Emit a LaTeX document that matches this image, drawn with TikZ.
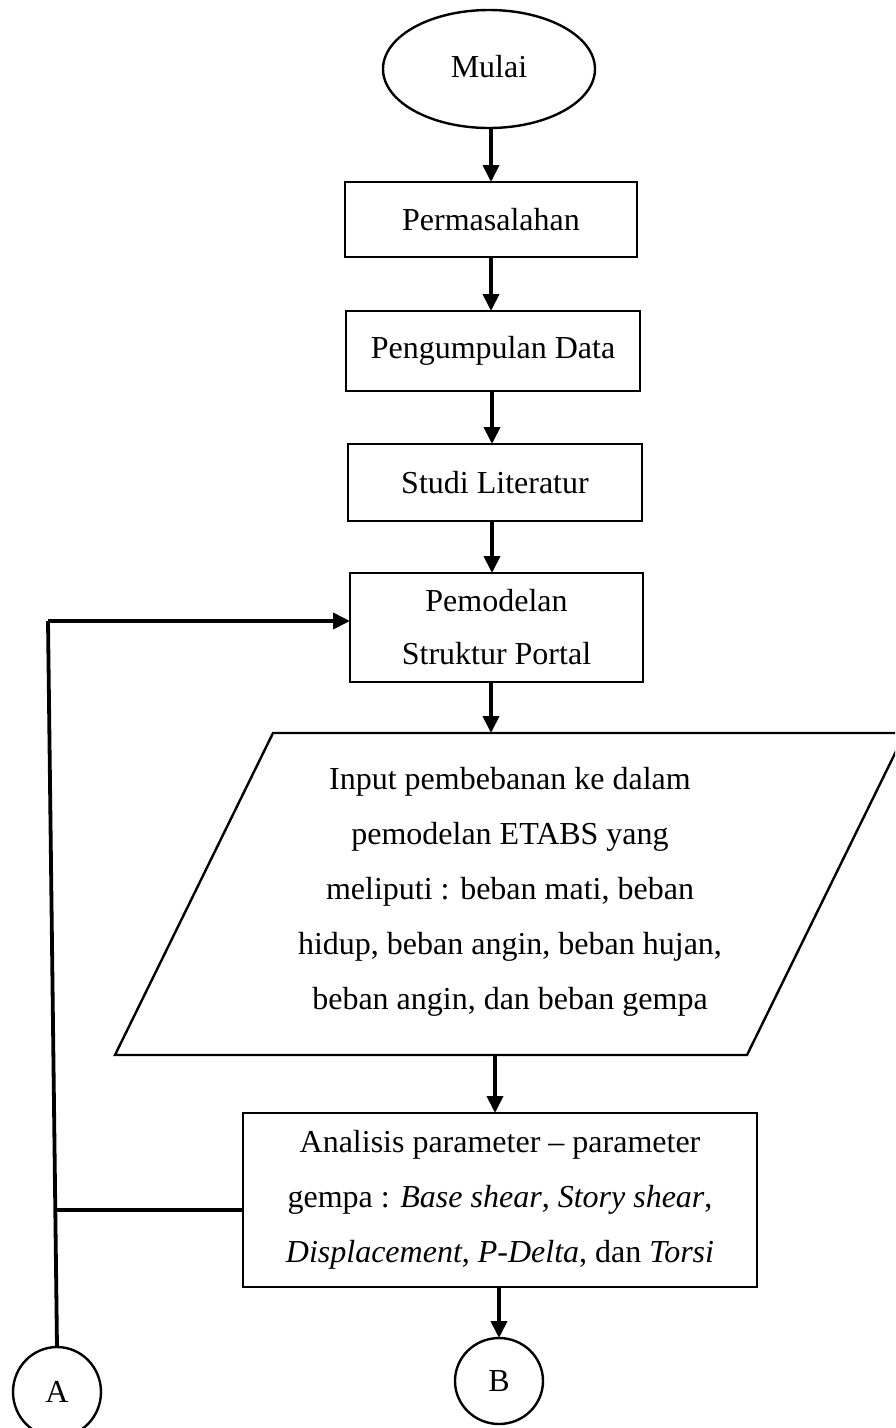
\documentclass[tikz,border=0pt]{standalone}
\usepackage{fontspec}
\setmainfont{Liberation Serif}
\usetikzlibrary{arrows.meta,shapes.geometric}
\begin{document}
\begin{tikzpicture}[x=1pt,y=-1pt,
  every node/.style={font=\fontsize{32}{55}\selectfont, inner sep=0pt, outer sep=0pt},
  procbox/.style={draw, line width=2.6pt, rectangle, align=center},
  termshape/.style={draw, line width=2.4pt, ellipse},
  conn/.style={draw, line width=2.4pt, ellipse},
  flow/.style={line width=3.8pt, -{Triangle[length=17pt,width=16pt]}},
  plainline/.style={line width=3.8pt}
]
\useasboundingbox (0,0) rectangle (895,1428);
\clip (0,0) rectangle (895,1428);
\fill[white] (0,0) rectangle (895,1428);

\node[termshape, minimum width=212pt, minimum height=118pt] (mulai) at (489,69) {\raisebox{5pt}{Mulai}};
\node[procbox, minimum width=292pt, minimum height=75pt] (perm) at (491,219.5) {Permasalahan};
\node[procbox, minimum width=294pt, minimum height=80pt] (peng) at (493,351) {Pengumpulan Data};
\node[procbox, minimum width=294pt, minimum height=77pt] (studi) at (495,482.5) {Studi Literatur};
\node[procbox, minimum width=293pt, minimum height=109pt, font=\fontsize{32}{53}\selectfont] (pemod) at (496.5,627.5) {Pemodelan\\Struktur Portal};

% input parallelogram
\coordinate (pTL) at (273,733);
\coordinate (pTR) at (905,733);
\coordinate (pBR) at (747,1055);
\coordinate (pBL) at (115,1055);
\draw[line width=2.4pt, line join=miter] (pTL) -- (pTR) -- (pBR) -- (pBL) -- cycle;
\node[align=center] (input) at (510,892) {Input pembebanan ke dalam\\pemodelan ETABS yang\\meliputi : beban mati, beban\\hidup, beban angin, beban hujan,\\beban angin, dan beban gempa};
\coordinate (inTop) at (491,733);
\coordinate (inBot) at (495,1055);

\node[procbox, minimum width=514pt, minimum height=174pt] (anal) at (500,1200) {Analisis parameter -- parameter\\gempa : \textit{Base shear}, \textit{Story shear},\\\textit{Displacement}, \textit{P-Delta}, dan \textit{Torsi}};

\node[conn, minimum width=88pt, minimum height=86pt] (B) at (499,1381) {B};
\node[conn, minimum width=88pt, minimum height=90pt] (A) at (57,1392) {A};

% main flow
\draw[flow] (mulai.south -| 491,0) -- (perm.north -| 491,0);
\draw[flow] (perm.south -| 491,0) -- (peng.north -| 491,0);
\draw[flow] (peng.south -| 492,0) -- (studi.north -| 492,0);
\draw[flow] (studi.south -| 492,0) -- (pemod.north -| 492,0);
\draw[flow] (pemod.south -| inTop) -- (inTop);
\draw[flow] (inBot) -- (anal.north -| inBot);
\draw[flow] (anal.south -| B.north) -- (B.north);

% feedback loop
\coordinate (loopTop) at (48,621);
\coordinate (junc) at (55.3,1210);
\draw[plainline, line join=miter] (A.north) -- (loopTop);
\draw[flow] (loopTop) -- (loopTop -| pemod.west);
\draw[plainline] (anal.west |- junc) -- (junc);
\end{tikzpicture}
\end{document}
